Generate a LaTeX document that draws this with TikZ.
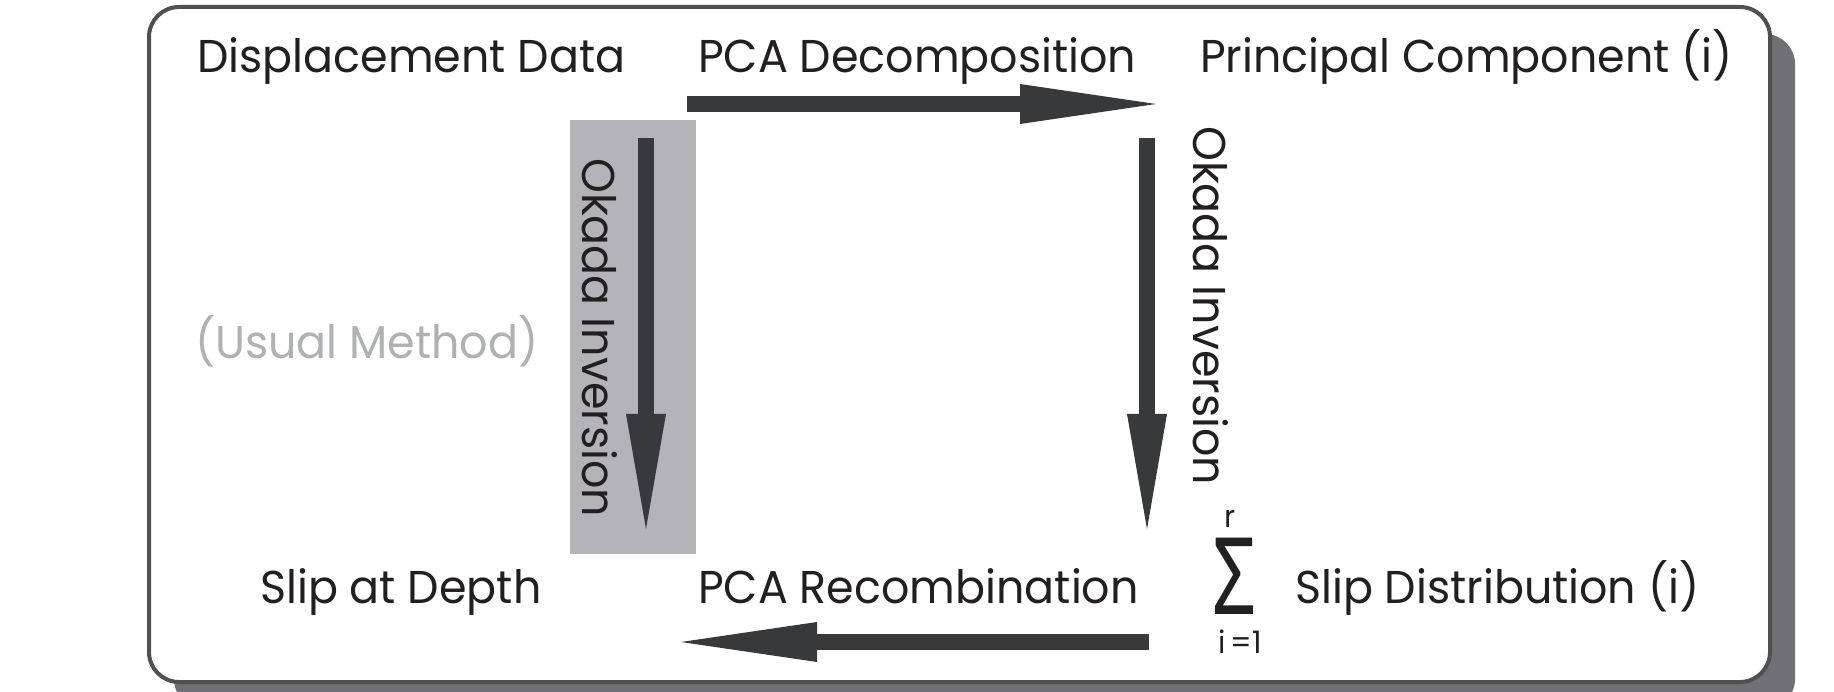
\documentclass[tikz,border=0pt]{standalone}
\usepackage{fontspec}
\setmainfont[FakeStretch=0.965]{Poppins}
\newfontfamily\sigmafont[FakeStretch=0.72]{Noto Sans}
\usetikzlibrary{arrows.meta, positioning, shadows}
\definecolor{ArrowGray}{RGB}{56,57,59}
\definecolor{FrameGray}{RGB}{80,80,82}
\definecolor{ShadowGray}{RGB}{112,112,116}
\definecolor{PanelGray}{RGB}{179,179,184}
\definecolor{NoteGray}{RGB}{176,177,181}
\definecolor{TextBlack}{RGB}{35,31,32}

\begin{document}
\begin{tikzpicture}[x=1pt, y=-1pt,
          frame/.style={draw=FrameGray, line width=4pt, fill=white, rounded corners=30pt, minimum width=1621pt, minimum height=675pt, drop shadow={shadow xshift=25pt, shadow yshift=-27pt, fill=ShadowGray, opacity=1}},
          panel/.style={fill=PanelGray, minimum width=126pt, minimum height=434pt},
          stage/.style={inner sep=0pt, anchor=base west, text=TextBlack, font=\fontsize{46}{50}\selectfont},
          side/.style={stage, rotate=-90},
          limit/.style={inner sep=0pt, anchor=base, text height=22pt, text depth=0pt, text=TextBlack, font=\fontsize{31}{34}\selectfont},
          flow/.style={ArrowGray, line width=16pt, -{Triangle[length=136pt, width=40pt, line width=0pt]}},
          drop/.style={flow, -{Triangle[length=115pt, width=40pt, line width=0pt]}}
        ]
          \useasboundingbox (0,0) rectangle (1834,692);

          \node (frame) [frame] at (959.5,344.5) {};
          \node (panel) [panel] at (633,337) {};

          % corners of the loop
          \node (data) [stage] at (197,73) {Displacement Data};
          \node (decomp) [stage] at (698,73) {PCA Decomposition};
          \node (component) [stage] at (1200,73) {Principal Component (i)};
          \node (depth) [stage] at (260,603) {Slip at Depth};
          \node (recomb) [stage] at (698,603) {PCA Recombination};
          \node (slip) [stage] at (1295,603) {Slip Distribution (i)};
          \node (usual) [stage, text=NoteGray] at (195,359) {(Usual Method)};

          % sum over components
          \node (sum) [inner sep=0pt, anchor=base, text height=76pt, text depth=0pt, text=TextBlack, font=\sigmafont\fontsize{107}{110}\selectfont] at (1235,614) {Σ};
          \node (upper) [limit, text height=16pt] at (1230,527) {r};
          \node (lower) [limit] at (1240,653) {i\,=1};

          % inversions
          \node (okadaL) [side] at (582,158) {Okada Inversion};
          \node (okadaR) [side] at (1193,126) {Okada Inversion};

          \coordinate (decompA) at (687,104);
          \coordinate (decompB) at (1156,104);
          \coordinate (usualA) at (646,138);
          \coordinate (usualB) at (646,529);
          \coordinate (okadaA) at (1147,138);
          \coordinate (okadaB) at (1147,529);
          \coordinate (recombA) at (1149,642);
          \coordinate (recombB) at (681,642);

          \draw [flow] (decompA) -- (decompB);
          \draw [drop] (usualA) -- (usualB);
          \draw [drop] (okadaA) -- (okadaB);
          \draw [flow] (recombA) -- (recombB);
        \end{tikzpicture}
\end{document}
